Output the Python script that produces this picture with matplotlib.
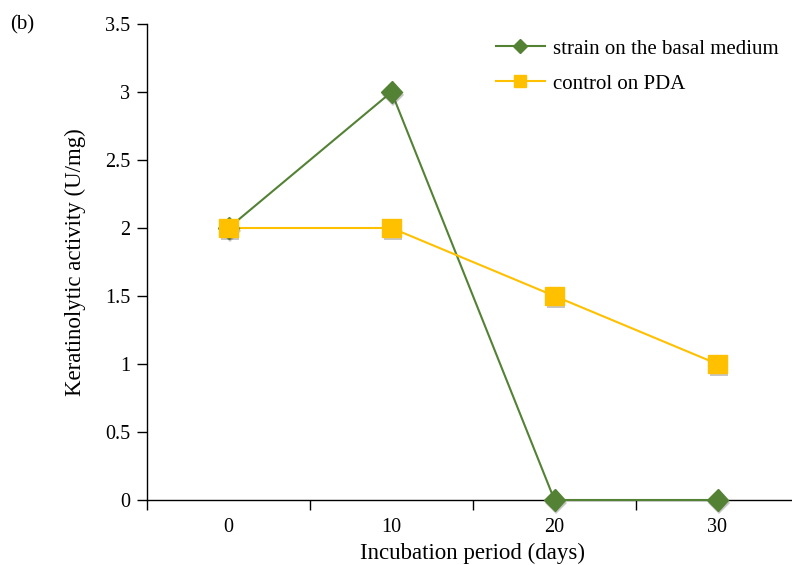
import matplotlib
matplotlib.use("Agg")
import matplotlib.pyplot as plt
import matplotlib.patheffects as pe

categories = ["0", "10", "20", "30"]
strain = [2, 3, 0, 0]
control = [2, 2, 1.5, 1]
yticks = [0, 0.5, 1, 1.5, 2, 2.5, 3, 3.5]
ytick_labels = ["0", "0.5", "1", "1.5", "2", "2.5", "3", "3.5"]

plt.rcParams['font.family'] = ['Liberation Serif', 'DejaVu Serif']

fig = plt.figure(figsize=(7.92, 5.65), dpi=100)
ax = fig.add_axes([147/792, 1-500/565, 652/792, 476/565])

x = list(range(len(categories)))
green = '#548235'
yellow = '#FFC000'
shadow = [pe.SimplePatchShadow(offset=(1.0, -2.0), alpha=0.3, shadow_rgbFace='#444444'), pe.Normal()]

ax.plot(x, strain, color=green, lw=1.5, zorder=3, clip_on=False)
ax.plot(x, control, color=yellow, lw=1.5, zorder=3, clip_on=False)
m1, = ax.plot(x, strain, ls='none', marker='D', ms=11, color=green, zorder=4, clip_on=False)
m2, = ax.plot(x, control, ls='none', marker='s', ms=13, color=yellow, zorder=4, clip_on=False)
m1.set_path_effects(shadow)
m2.set_path_effects(shadow)

h1, = ax.plot([], [], color=green, lw=1.5, marker='D', ms=7, label='strain on the basal medium')
h2, = ax.plot([], [], color=yellow, lw=1.5, marker='s', ms=8, label='control on PDA')

ax.set_xlim(-0.5, 3.5)
ax.set_ylim(0, 3.5)
ax.set_yticks(yticks)
ax.set_yticklabels(ytick_labels)
ax.set_xticks(x)
ax.set_xticklabels(categories)
ax.set_xticks([-0.5, 0.5, 1.5, 2.5, 3.5], minor=True)
ax.tick_params(axis='x', which='major', length=0, labelsize=14.5, pad=13)
ax.tick_params(axis='x', which='minor', length=7, width=1, direction='out')
ax.tick_params(axis='y', length=7, width=1, direction='out', labelsize=14.5, pad=5)
for s in ['top', 'right']:
    ax.spines[s].set_visible(False)
ax.spines['left'].set_linewidth(1)
ax.spines['bottom'].set_linewidth(1)

ax.set_xlabel('Incubation period (days)', fontsize=16.5, labelpad=4)
ax.set_ylabel('Keratinolytic activity (U/mg)', fontsize=16.5, labelpad=14)

leg = ax.legend(handles=[h1, h2], loc='upper left', bbox_to_anchor=(496/792, 1-39/565),
                bbox_transform=fig.transFigure, frameon=False, fontsize=15,
                handlelength=2.35, handletextpad=0.4, labelspacing=0.75, borderaxespad=0, borderpad=0)

fig.text(10/792, 1-25/565, '(b)', fontsize=15, va='center', ha='left')

fig.savefig('out.png', dpi=100)
